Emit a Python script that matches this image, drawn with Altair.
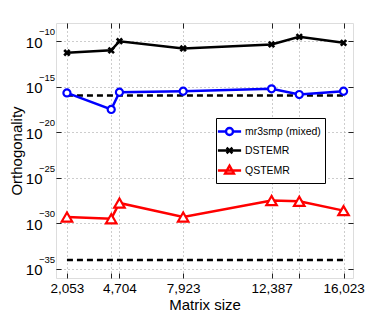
import altair as alt
import pandas as pd

# ---- data ----
sizes = [2053, 4289, 4704, 7923, 12387, 13786, 16023]
labeled_sizes = [2053, 4704, 7923, 12387, 16023]
series_names = ["mr3smp (mixed)", "DSTEMR", "QSTEMR"]
series_colors = ["#0000ff", "#000000", "#ff0000"]
mr3smp = [2.1e-16, 3.2e-18, 2.5e-16, 3.2e-16, 5.9e-16, 1.4e-16, 3.2e-16]
dstemr = [5.4e-12, 1.0e-11, 1.0e-10, 1.6e-11, 4.4e-11, 3.0e-10, 6.6e-11]
qstemr = [5.0e-30, 3.2e-30, 1.7e-28, 5.0e-30, 3.2e-28, 2.6e-28, 2.5e-29]
eps_levels = [1.1e-16, 9.6e-35]
y_ticks = [1e-35, 1e-30, 1e-25, 1e-20, 1e-15, 1e-10]
y_exponent_labels = ["−35", "−30", "−25", "−20", "−15", "−10"]

FONT = "Liberation Sans"
x_scale = alt.Scale(domain=[1500, 16500], nice=False, zero=False)
y_scale = alt.Scale(type="log", domain=[1e-36, 1e-8], nice=False)

x_label_expr = f"indexof({labeled_sizes}, datum.value) >= 0 ? datum.label : ''"

x_axis_main = alt.Axis(
    values=sizes, format=",d", labelExpr=x_label_expr, title="Matrix size",
    grid=True, gridDash=[1, 3], gridColor="#9a9a9a", gridWidth=1,
    domain=False, offset=-5, tickSize=5, tickColor="#222", tickWidth=1,
    labelFont=FONT, labelFontSize=13.5, labelColor="#000", labelPadding=3,
    titleFont=FONT, titleFontSize=15, titleFontWeight="normal", titleColor="#000",
    titlePadding=3,
)
y_axis_main = alt.Axis(
    values=y_ticks, labelExpr="'10'", title="Orthogonality",
    grid=True, gridDash=[1, 3], gridColor="#9a9a9a", gridWidth=1,
    domain=False, offset=-5, tickSize=5, tickColor="#222", tickWidth=1,
    labelFont=FONT, labelFontSize=15, labelColor="#000", labelPadding=14,
    labelBaseline="middle", labelOffset=1,
    titleFont=FONT, titleFontSize=15, titleFontWeight="normal", titleColor="#000",
    titlePadding=1,
)
x_axis_top = alt.Axis(
    orient="top", values=sizes, labels=False, title=None, grid=False,
    domain=False, offset=-5, tickSize=5, tickColor="#222", tickWidth=1,
)
y_axis_right = alt.Axis(
    orient="right", values=y_ticks, labels=False, title=None, grid=False,
    domain=False, offset=-5, tickSize=5, tickColor="#222", tickWidth=1,
)

# dashed reference levels
dash_rows = []
for i, lev in enumerate(eps_levels):
    dash_rows.append({"x": sizes[0], "y": lev, "g": i})
    dash_rows.append({"x": sizes[-1], "y": lev, "g": i})
dash_df = pd.DataFrame(dash_rows)

dashed = alt.Chart(dash_df).mark_line(
    color="black", strokeWidth=2.5, strokeDash=[6, 4]
).encode(
    x=alt.X("x:Q", scale=x_scale, axis=x_axis_main),
    y=alt.Y("y:Q", scale=y_scale, axis=y_axis_main),
    detail="g:N",
)

# exponents of the y tick labels (superscripts)
exp_df = pd.DataFrame({"v": y_ticks, "t": y_exponent_labels})
exponents = alt.Chart(exp_df).mark_text(
    align="left", baseline="middle", font=FONT, fontSize=9.5, color="#000",
    dy=-9,
).encode(
    x=alt.value(-17),
    y=alt.Y("v:Q", scale=y_scale, axis=y_axis_main),
    text="t:N",
)

def series_layers(vals, color, shape, size, sw):
    df = pd.DataFrame({"x": sizes, "y": vals})
    base = alt.Chart(df).encode(
        x=alt.X("x:Q", scale=x_scale, axis=x_axis_main),
        y=alt.Y("y:Q", scale=y_scale, axis=y_axis_main),
    )
    line = base.mark_line(color=color, strokeWidth=2.5)
    pts = base.mark_point(
        shape=shape, size=size, filled=True, fill="white", stroke=color,
        strokeWidth=sw, opacity=1,
    )
    return [line, pts]

layers = [dashed, exponents]
layers += series_layers(dstemr, series_colors[1], "M-1,-1L1,1M-1,1L1,-1", 30, 2.6)
layers += series_layers(mr3smp, series_colors[0], "circle", 50, 2.2)
layers += series_layers(qstemr, series_colors[2], "triangle-up", 110, 2.2)
main = alt.layer(*layers)

# legend-only layer (no drawable positions) carrying the mirrored axes
legend_paths = [
    "M-1.45,0H-0.44M0.44,0H1.45M0.44,0A0.44,0.44 0 1 1 -0.44,0A0.44,0.44 0 1 1 0.44,0",
    "M-1.45,0H1.45M-0.36,-0.36L0.36,0.36M-0.36,0.36L0.36,-0.36",
    "M-1.45,0H1.45M0,-0.6L0.55,0.38L-0.55,0.38Z",
]
leg_df = pd.DataFrame({"series": series_names, "x": [None] * 3, "y": [None] * 3})
legend_layer = alt.Chart(leg_df).mark_point(filled=False, strokeWidth=2.4, opacity=1).encode(
    x=alt.X("x:Q", scale=x_scale, axis=x_axis_top),
    y=alt.Y("y:Q", scale=y_scale, axis=y_axis_right),
    color=alt.Color(
        "series:N",
        scale=alt.Scale(domain=series_names, range=series_colors),
        legend=alt.Legend(
            title=None, orient="none", legendX=160, legendY=95,
            fillColor="white", strokeColor="black", padding=4,
            labelFont=FONT, labelFontSize=10.5, labelColor="#000",
            symbolSize=256, symbolStrokeWidth=2.4, rowPadding=1,
            labelOffset=6,
        ),
    ),
    shape=alt.Shape(
        "series:N",
        scale=alt.Scale(domain=series_names, range=legend_paths),
        legend=None,
    ),
)

chart = alt.layer(main, legend_layer).resolve_axis(
    x="independent", y="independent"
).properties(
    width=297, height=255,
    autosize=alt.AutoSizeParams(type="none"),
    padding={"left": 48, "top": 15, "right": 20, "bottom": 36},
).configure_view(
    stroke="#222", strokeWidth=1
).configure(background="white")

chart.save("out.html", embed_options={"renderer": "svg", "actions": False})
